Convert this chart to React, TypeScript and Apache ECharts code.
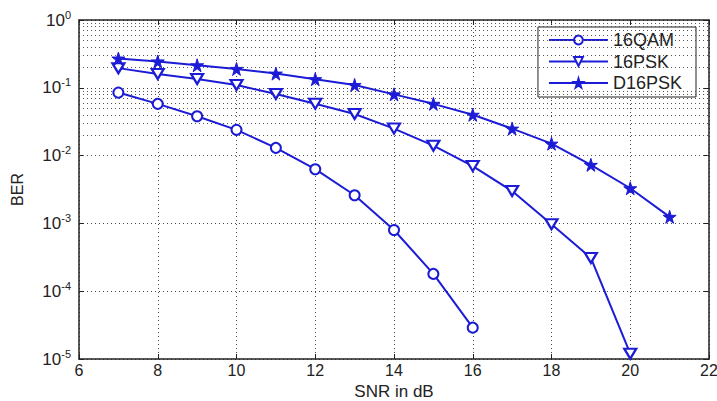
import React, { useEffect, useRef } from "react";
import * as echarts from "echarts";

const snr16QAM = [7, 8, 9, 10, 11, 12, 13, 14, 15, 16];
const ber16QAM = [0.085, 0.058, 0.038, 0.024, 0.013, 0.0063, 0.0026, 0.0008, 0.00018, 0.000029];
const snr16PSK = [7, 8, 9, 10, 11, 12, 13, 14, 15, 16, 17, 18, 19, 20];
const ber16PSK = [0.195, 0.16, 0.135, 0.11, 0.081, 0.058, 0.041, 0.025, 0.014, 0.007, 0.003, 0.00097, 0.00031, 0.000012];
const snrD16PSK = [7, 8, 9, 10, 11, 12, 13, 14, 15, 16, 17, 18, 19, 20, 21];
const berD16PSK = [0.27, 0.245, 0.215, 0.19, 0.162, 0.134, 0.11, 0.08, 0.058, 0.04, 0.025, 0.015, 0.0073, 0.0033, 0.00125];
const seriesNames = ["16QAM", "16PSK", "D16PSK"];
const xTicks = [6, 8, 10, 12, 14, 16, 18, 20, 22];
const decades = [-5, -4, -3, -2, -1];
const minorMultipliers = [2, 3, 4, 5, 6, 7, 8, 9];

const BLUE = "#1c1cd6";
const FONT = "Liberation Sans, Arial, sans-serif";
const STAR = "path://M50,0 L61,35 L98,35 L68,57 L79,91 L50,70 L21,91 L32,57 L2,35 L39,35 Z";
const TRI_DOWN = "path://M0,0 L10,0 L5,9 Z";

export default function App() {
  const ref = useRef<HTMLDivElement>(null);
  useEffect(() => {
    if (!ref.current) return;
    const chart = echarts.init(ref.current, null, { renderer: "svg" });
    const minorLines: any[] = [];
    decades.forEach((d) => {
      minorMultipliers.forEach((m) => {
        minorLines.push({ yAxis: m * Math.pow(10, d) });
      });
    });
    const gridStyle = { color: "#444", type: [1, 3] as any, width: 1 };
    const mk = (xs: number[], ys: number[]) => xs.map((x, i) => [x, ys[i]]);
    chart.setOption({
      animation: false,
      backgroundColor: "#fff",
      textStyle: { fontFamily: FONT },
      grid: { left: 79, right: 8, top: 20, bottom: 42, containLabel: false, outerBoundsMode: "none" },
      legend: {
        orient: "vertical",
        right: 21,
        top: 27,
        backgroundColor: "#fff",
        borderColor: "#222",
        borderWidth: 1,
        borderRadius: 0,
        padding: [4, 14, 5, 10],
        itemGap: 3.5,
        itemWidth: 59,
        itemHeight: 11,
        textStyle: { fontSize: 18, lineHeight: 18, color: "#222", fontFamily: FONT },
        data: seriesNames,
      },
      xAxis: [
        {
          type: "value",
          min: 6,
          max: 22,
          interval: 2,
          name: "SNR in dB",
          nameLocation: "middle",
          nameGap: 21,
          nameTextStyle: { fontSize: 17, lineHeight: 18, color: "#222", fontFamily: FONT },
          axisLine: { lineStyle: { color: "#222", width: 1.5 } },
          axisTick: { inside: true, length: 5, lineStyle: { color: "#222" } },
          axisLabel: {
            fontSize: 16,
            color: "#222",
            margin: 3,
            formatter: (v: number) => (xTicks.includes(v) ? String(v) : ""),
          },
          splitLine: { show: true, lineStyle: gridStyle },
        },
        {
          type: "value",
          position: "top",
          min: 6,
          max: 22,
          interval: 2,
          axisLine: { show: true, lineStyle: { color: "#222", width: 1.5 } },
          axisTick: { inside: true, length: 5, lineStyle: { color: "#222" } },
          axisLabel: { show: false },
          splitLine: { show: false },
        },
      ],
      yAxis: [
        {
          type: "log",
          logBase: 10,
          min: 1e-5,
          max: 1,
          interval: 1,
          name: "BER",
          nameLocation: "middle",
          nameGap: 54,
          nameTextStyle: { fontSize: 16, color: "#222", fontFamily: FONT },
          axisLine: { show: true, lineStyle: { color: "#222", width: 1.5 } },
          axisTick: { show: true, inside: true, length: 5, lineStyle: { color: "#222" } },
          axisLabel: {
            color: "#222",
            margin: 8,
            formatter: (v: number) => {
              const e = Math.round(Math.log10(v));
              return "{b|10}{s|" + e + "}";
            },
            rich: {
              b: { fontSize: 17, color: "#222", fontFamily: FONT },
              s: { fontSize: 11, color: "#222", fontFamily: FONT, padding: [0, 0, 11, 0] },
            },
          },
          splitLine: { show: true, lineStyle: gridStyle },
        },
        {
          type: "log",
          logBase: 10,
          min: 1e-5,
          max: 1,
          interval: 1,
          position: "right",
          axisLine: { show: true, lineStyle: { color: "#222", width: 1.5 } },
          axisTick: { show: true, inside: true, length: 5, lineStyle: { color: "#222" } },
          axisLabel: { show: false },
          splitLine: { show: false },
        },
      ],
      series: [
        {
          name: seriesNames[0],
          type: "line",
          data: mk(snr16QAM, ber16QAM),
          color: BLUE,
          lineStyle: { color: BLUE, width: 2 },
          itemStyle: { color: BLUE, borderColor: BLUE, borderWidth: 1.8 },
          symbol: "emptyCircle",
          symbolSize: 10,
          z: 5,
        },
        {
          name: seriesNames[1],
          type: "line",
          data: mk(snr16PSK, ber16PSK),
          color: BLUE,
          lineStyle: { color: BLUE, width: 2 },
          itemStyle: { color: "#fff", borderColor: BLUE, borderWidth: 2.2 },
          symbol: TRI_DOWN,
          symbolSize: [12, 10],
          z: 5,
        },
        {
          name: seriesNames[2],
          type: "line",
          data: mk(snrD16PSK, berD16PSK),
          color: BLUE,
          lineStyle: { color: BLUE, width: 2 },
          itemStyle: { color: BLUE, borderColor: BLUE, borderWidth: 1 },
          symbol: STAR,
          symbolSize: 13,
          z: 5,
        },
        {
          name: "grid-minor",
          type: "line",
          data: [],
          silent: true,
          color: "#555",
          markLine: {
            silent: true,
            symbol: ["none", "none"],
            label: { show: false },
            lineStyle: { color: "#555", type: [1, 3], width: 1 },
            data: minorLines,
          },
        },
      ],
    });
    return () => chart.dispose();
  }, []);
  return <div ref={ref} style={{ width: 717, height: 401, position: "absolute", left: 0, top: 0 }} />;
}
